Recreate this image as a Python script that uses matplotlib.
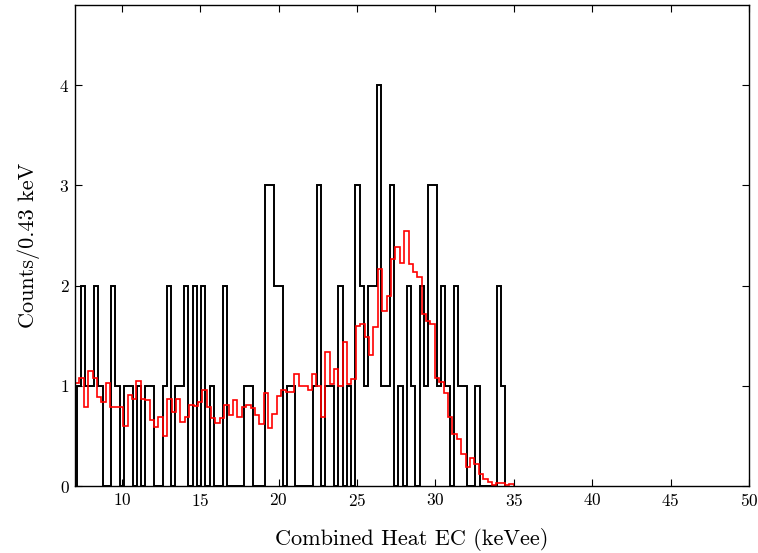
import numpy as np
import matplotlib
matplotlib.use("Agg")
import matplotlib.pyplot as plt

plt.rcParams['font.family'] = ['cmr10', 'DejaVu Serif']
plt.rcParams['mathtext.fontset'] = 'cm'
plt.rcParams['axes.formatter.use_mathtext'] = True

# measured data histogram (counts per bin)
data_lo, data_hi = 7.12, 34.46
data_counts = [1, 2, 1, 1, 2, 1, 0, 0, 2, 1,
               0, 1, 1, 0, 1, 0, 1, 1, 0, 0,
               1, 2, 0, 1, 1, 2, 0, 2, 0, 2,
               0, 1, 0, 0, 2, 0, 0, 0, 0, 1,
               1, 0, 0, 0, 3, 3, 2, 2, 0, 1,
               1, 0, 0, 0, 0, 1, 3, 0, 1, 1,
               0, 2, 0, 1, 0, 3, 2, 1, 2, 2,
               4, 1, 1, 3, 0, 1, 0, 2, 1, 0,
               2, 1, 3, 3, 1, 2, 1, 0, 2, 1,
               1, 0, 0, 1, 0, 0, 0, 0, 2, 1]

# model (red) histogram
model_lo, model_hi = 7.0, 35.0
model_counts = [1.03, 1.08, 0.79, 1.15, 1.08, 0.89, 0.84, 1.03, 0.79, 0.79,
                0.79, 0.60, 0.91, 0.87, 1.05, 0.87, 0.86, 0.66, 0.59, 0.69,
                0.50, 0.87, 0.74, 0.87, 0.64, 0.69, 0.81, 0.80, 0.84, 0.96,
                0.79, 0.68, 0.63, 0.68, 0.81, 0.71, 0.86, 0.69, 0.79, 0.81,
                0.78, 0.71, 0.62, 0.93, 0.58, 0.72, 0.90, 0.96, 0.94, 0.94,
                1.12, 1.00, 1.00, 0.96, 1.12, 1.00, 0.69, 1.34, 1.02, 1.17,
                1.00, 1.44, 1.02, 1.07, 1.60, 1.62, 1.49, 1.31, 1.59, 2.17,
                1.75, 1.90, 2.27, 2.39, 2.23, 2.54, 2.22, 2.14, 2.09, 1.72,
                1.65, 1.62, 1.08, 1.04, 0.93, 0.69, 0.52, 0.47, 0.32, 0.19,
                0.28, 0.22, 0.12, 0.07, 0.04, 0.01, 0.03, 0.03, 0.01, 0.02]

xticks = [10, 15, 20, 25, 30, 35, 40, 45, 50]
yticks = [0, 1, 2, 3, 4]

data_edges = np.linspace(data_lo, data_hi, len(data_counts) + 1)
model_edges = np.linspace(model_lo, model_hi, len(model_counts) + 1)

fig = plt.figure(figsize=(7.58, 5.53), dpi=100)
ax = fig.add_axes((0.099, 0.121, 0.889, 0.870))

ax.stairs(data_counts, data_edges, color='k', linewidth=1.4, baseline=0)
ax.stairs(model_counts, model_edges, color='r', linewidth=1.2, baseline=0)

ax.set_xlim(7, 50)
ax.set_ylim(0, 4.8)
ax.set_xticks(xticks)
ax.set_yticks(yticks)
ax.tick_params(direction='in', top=True, right=True, length=5, width=0.8,
               labelsize=12.5, pad=4)
for sp in ax.spines.values():
    sp.set_linewidth(1.0)

ax.set_xlabel("Combined Heat EC (keVee)", fontsize=16, labelpad=14)
ax.set_ylabel("Counts/0.43 keV", fontsize=16, labelpad=14)

fig.savefig("out.png", dpi=100)
